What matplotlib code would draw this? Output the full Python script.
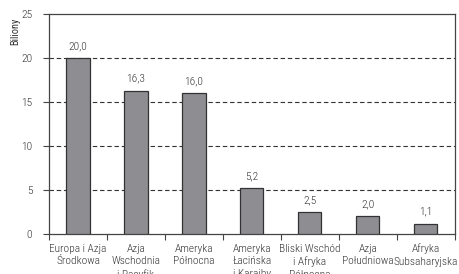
import matplotlib
matplotlib.use("Agg")
import matplotlib.pyplot as plt
from matplotlib import font_manager

categories = ["Europa i Azja\nŚrodkowa", "Azja\nWschodnia\ni Pacyfik", "Ameryka\nPółnocna",
              "Ameryka\nŁacińska\ni Karaiby", "Bliski Wschód\ni Afryka\nPółnocna",
              "Azja\nPołudniowa", "Afryka\nSubsaharyjska"]
values = [20.0, 16.3, 16.0, 5.2, 2.5, 2.0, 1.1]
value_labels = ["20,0", "16,3", "16,0", "5,2", "2,5", "2,0", "1,1"]
yticks = [0, 5, 10, 15, 20, 25]

names = {f.name for f in font_manager.fontManager.ttflist}
fam = "Liberation Sans"
for cand in ["Roboto Condensed", "Liberation Sans Narrow", "Open Sans Condensed", "DejaVu Sans Condensed"]:
    if cand in names:
        fam = cand
        break
plt.rcParams['font.family'] = [fam, 'DejaVu Sans']
plt.rcParams['font.weight'] = 300

tc = "#333333"
fig = plt.figure(figsize=(4.59, 2.74), dpi=100)
ax = fig.add_axes([0.1068, 0.146, 0.884, 0.803])
x = list(range(len(categories)))
ax.bar(x, values, width=0.4, color="#8e8e92", edgecolor="#333333", linewidth=0.9, zorder=3)
for xi, v, lab in zip(x, values, value_labels):
    ax.text(xi, v + 0.75, lab, ha="center", va="bottom", fontsize=8.2, color=tc)
ax.set_xlim(-0.5, len(categories) - 0.5)
ax.set_ylim(0, 25)
ax.set_yticks(yticks)
ax.set_yticklabels([str(t) for t in yticks], fontsize=8.2, color=tc)
ax.set_xticks([i + 0.5 for i in range(-1, len(categories))], minor=False)
ax.set_xticklabels([])
ax.set_xticks(x, minor=True)
ax.set_xticklabels(categories, minor=True, fontsize=8.2, color=tc, linespacing=1.33)
ax.tick_params(axis="x", which="minor", length=0, pad=7)
ax.tick_params(axis="x", which="major", length=4, color="#444444", width=0.8)
ax.tick_params(axis="y", length=4, color="#444444", width=0.8, pad=8)
for yv in yticks[1:-1]:
    ax.axhline(yv, color="#333333", linestyle=(0, (4, 2.5)), linewidth=0.8, zorder=1)
for s in ax.spines.values():
    s.set_color("#444444")
    s.set_linewidth(0.9)
ax.set_ylabel("Biliony", fontsize=7.5, color=tc)
ax.yaxis.set_label_coords(-0.07, 0.92)
fig.savefig("out.png", dpi=100)
